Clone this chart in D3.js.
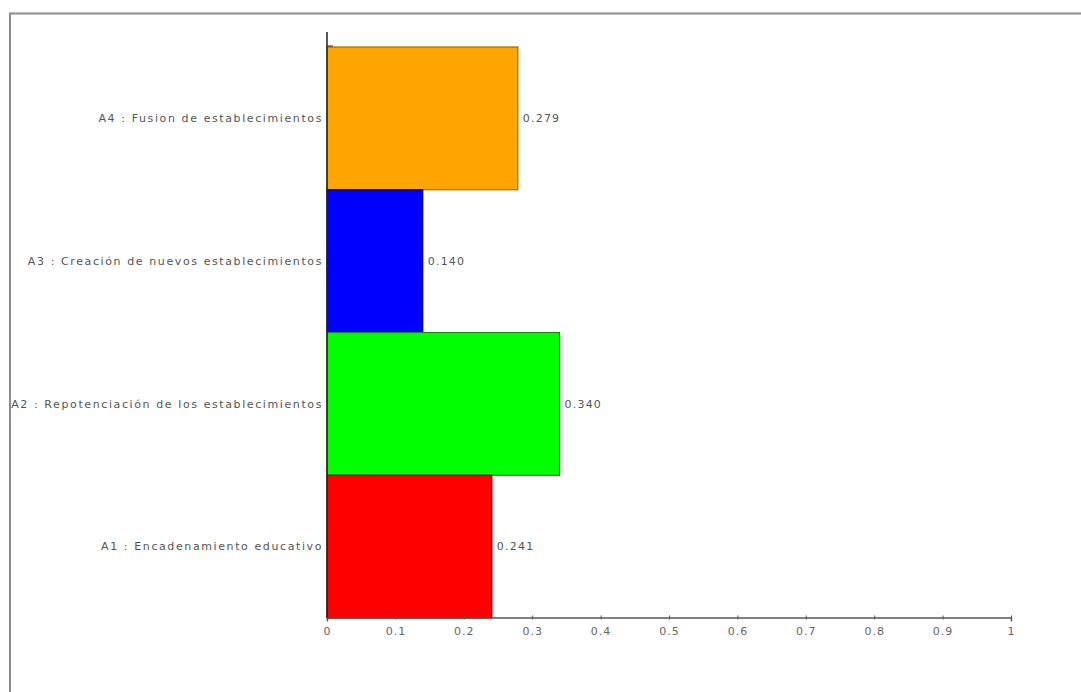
<!DOCTYPE html>
<html><head><meta charset="utf-8">
<script src="https://cdn.jsdelivr.net/npm/d3@7"></script>
<style>body{margin:0;background:#fff}svg{display:block}</style>
</head><body>
<svg id="c" width="1081" height="692"></svg>
<script>
const categories = ["A4 : Fusion de establecimientos","A3 : Creación de nuevos establecimientos","A2 : Repotenciación de los establecimientos","A1 : Encadenamiento educativo"];
const values = [0.279, 0.140, 0.340, 0.241];
const valueLabels = ["0.279","0.140","0.340","0.241"];
const colors = ["#FFA500","#0000FF","#00FF00","#FF0000"];
const strokes = ["#9a6a10","#00007a","#1a8a1a","#9a0000"];
const tickValues = [0,0.1,0.2,0.3,0.4,0.5,0.6,0.7,0.8,0.9,1];
const tickLabels = ["0","0.1","0.2","0.3","0.4","0.5","0.6","0.7","0.8","0.9","1"];

const FONT = "'DejaVu Sans', sans-serif";
const svg = d3.select("#c");
// frame
svg.append("line").attr("x1",9).attr("x2",1081).attr("y1",13.5).attr("y2",13.5).attr("stroke","#8c8c8c").attr("stroke-width",2);
svg.append("line").attr("x1",10).attr("x2",10).attr("y1",13).attr("y2",692).attr("stroke","#8c8c8c").attr("stroke-width",2);

const x = d3.scaleLinear().domain([0,1]).range([327,1011]);
const y = d3.scaleBand().domain(categories).range([47,618]).padding(0);

const g = svg.append("g");
g.selectAll("rect").data(categories).join("rect")
  .attr("x", x(0))
  .attr("y", d=>y(d))
  .attr("width", (d,i)=>x(values[i])-x(0))
  .attr("height", y.bandwidth())
  .attr("fill",(d,i)=>colors[i])
  .attr("stroke",(d,i)=>strokes[i])
  .attr("stroke-width",1.2);

g.selectAll("text.val").data(categories).join("text").attr("class","val")
  .attr("x",(d,i)=>x(values[i])+5)
  .attr("y",d=>y(d)+y.bandwidth()/2)
  .attr("dy","0.35em")
  .attr("font-family",FONT).attr("font-size",11).attr("letter-spacing","1.2px").attr("fill","#555")
  .text((d,i)=>valueLabels[i]);

g.selectAll("text.cat").data(categories).join("text").attr("class","cat")
  .attr("x",x(0)-4)
  .attr("y",d=>y(d)+y.bandwidth()/2)
  .attr("dy","0.35em").attr("text-anchor","end")
  .attr("font-family",FONT).attr("font-size",11).attr("letter-spacing","1.6px").attr("fill","#555")
  .text(d=>d);

// x axis
const xa = svg.append("g").attr("transform","translate(0,617.5)")
  .call(d3.axisBottom(x).tickValues(tickValues).tickFormat((d,i)=>tickLabels[i]).tickSize(4).tickSizeOuter(4));
xa.select(".domain").attr("stroke","#555").attr("stroke-width",1.5);
xa.selectAll(".tick line").attr("stroke","#555").attr("y1",-2).attr("y2",2);
xa.selectAll(".tick text").attr("font-family",FONT).attr("font-size",11).attr("letter-spacing","1px").attr("fill","#666").attr("y",10);

// y axis line
svg.append("line").attr("x1",x(0)).attr("x2",x(0)).attr("y1",32).attr("y2",618).attr("stroke","#222").attr("stroke-width",1.5);
svg.append("line").attr("x1",x(0)).attr("x2",x(0)+6).attr("y1",46).attr("y2",46).attr("stroke","#222").attr("stroke-width",1);
</script>
</body></html>
